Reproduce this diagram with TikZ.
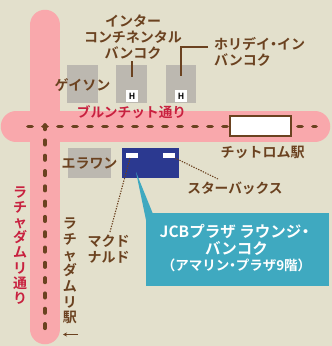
\documentclass[tikz,border=0pt]{standalone}
\usepackage{fontspec}
\usetikzlibrary{arrows.meta}
\setmainfont{Noto Sans CJK JP}[BoldFont={Noto Sans CJK JP Bold}]
\newcommand{\nd}{\hspace{-3.5pt}・\hspace{-3.5pt}}
\definecolor{bgc}{HTML}{E3E0CC}
\definecolor{roadc}{HTML}{F9A8AC}
\definecolor{grayc}{HTML}{BCB8B0}
\definecolor{bluec}{HTML}{2B3990}
\definecolor{tealc}{HTML}{3FA9C0}
\definecolor{brownc}{HTML}{6B4220}
\definecolor{redc}{HTML}{C8213F}
\tikzset{
 road/.style={line width=30.5pt,roadc,line cap=round},
 rdots/.style={brownc,line width=3.8pt,line cap=round,dash pattern=on 4pt off 11pt},
 blockbox/.style={fill=grayc,draw=none,inner sep=0pt,anchor=north west},
 hbox/.style={fill=white,inner sep=0pt,minimum width=11.5pt,minimum height=12pt,text=black,font=\fontsize{8.5}{9}\selectfont\bfseries,anchor=center},
 wbox/.style={fill=white,inner sep=0pt,minimum width=12pt,minimum height=5.5pt},
 lab/.style={text=brownc,font=\fontsize{14}{16}\selectfont\bfseries,align=center,inner sep=0pt},
 rlab/.style={text=redc,font=\fontsize{13.7}{16}\selectfont\bfseries,align=center,inner sep=0pt},
 leader/.style={brownc,line width=1.1pt},
 dleader/.style={brownc,line width=1.1pt,dash pattern=on 1.3pt off 1.3pt},
}
\begin{document}
\begin{tikzpicture}[x=1pt,y=-1pt]
\useasboundingbox (0,0) rectangle (332,346);
\fill[bgc] (0,0) rectangle (332,346);
\coordinate (vt) at (45,25);\coordinate (vb) at (45,329);
\coordinate (hl) at (16,126.5);\coordinate (hr) at (315,126.5);
\draw[road] (vt)--(vb);
\draw[road] (hl)--(hr);
\coordinate (dl) at (28,126.5);\coordinate (dr) at (316,126.5);
\coordinate (dt) at (45,125);\coordinate (db) at (45,329);
\draw[rdots] (dl)--(dr);
\draw[rdots,dash pattern=on 4.3pt off 11pt] (dt)--(db);
\node[blockbox,minimum width=31pt,minimum height=38pt] (geison) at (67,65) {};
\node[blockbox,minimum width=31pt,minimum height=38pt] (inter) at (116,65) {};
\node[blockbox,minimum width=30pt,minimum height=38pt] (holiday) at (166,65) {};
\node[blockbox,minimum width=43pt,minimum height=30pt] (erawan) at (68,148) {};
\node[hbox] (h1) at (132,96) {H};
\node[hbox] (h2) at (181,96) {H};
\node[draw=brownc,line width=2.4pt,fill=white,minimum width=61pt,minimum height=20pt,inner sep=0pt] (station) at (260.5,126) {};
% callout
\node[fill=tealc,minimum width=183pt,minimum height=73pt,inner sep=0pt,anchor=north west] (callout) at (146,213) {};
\node[fill=bluec,minimum width=57pt,minimum height=30pt,inner sep=0pt,anchor=north west] (lounge) at (122,148) {};
\coordinate (tip) at (136,172);\coordinate (ta) at (153,214);\coordinate (tb) at (146,220);
\fill[tealc] (tip)--(ta)--(tb)--cycle;
\node[wbox] (w1) at (132,155.5) {};
\node[wbox] (w2) at (169,155.5) {};
% leaders
\coordinate (la) at (132,61);\coordinate (lb) at (132,77);
\draw[leader] (la)--(lb);
\coordinate (ha) at (208,47);\coordinate (hb) at (181,47);\coordinate (hc) at (181,76);
\draw[leader] (ha)--(hb)--(hc);
\coordinate (m1) at (110,232);\coordinate (m2) at (130,158);
\draw[dleader] (m1)--(m2);
\coordinate (s1) at (218,179);\coordinate (s2) at (175,158);
\draw[dleader] (s1)--(s2);
% labels
\node[lab] (tinter) at (133,37) {インター\\コンチネンタル\\バンコク};
\node[lab,align=left,anchor=north west] (tholiday) at (214,37) {ホリデイ\nd イン\\バンコク};
\node[lab] (tgeison) at (82.5,85.5) {ゲイソン};
\node[lab] (terawan) at (89.5,164) {エラワン};
\node[rlab] (tburun) at (131.5,112.5) {ブルンチット通り};
\node[lab] (tchit) at (262.5,152.5) {チットロム駅};
\node[lab,font=\fontsize{13.7}{16}\selectfont\bfseries] (tstar) at (235,188) {スターバックス};
\node[lab] (tmac) at (108.5,249) {マクド\\ナルド};
\node[rlab,font=\fontsize{14}{15.1}\selectfont\bfseries] (trama) at (20,245.5) {ラ\\チ\\ャ\\ダ\\ム\\リ\\通\\り};
\node[lab,font=\fontsize{14}{15.7}\selectfont\bfseries] (trsta) at (70,271) {ラ\\チ\\ャ\\ダ\\ム\\リ\\駅};
\coordinate (ar1) at (78,334.5);\coordinate (ar2) at (63,334.5);
\draw[brownc,line width=0.9pt,-{Stealth[length=4pt,width=4pt]}] (ar1)--(ar2);
\node[text=white,font=\fontsize{15.5}{18}\selectfont\bfseries,align=center,inner sep=0pt] (tlounge) at (236.5,248) {JCBプラザ ラウンジ\nd\\[-1pt]バンコク\\[-2pt]{\fontsize{13.5}{15}\selectfont （アマリン\nd プラザ9階）}};
\end{tikzpicture}
\end{document}
